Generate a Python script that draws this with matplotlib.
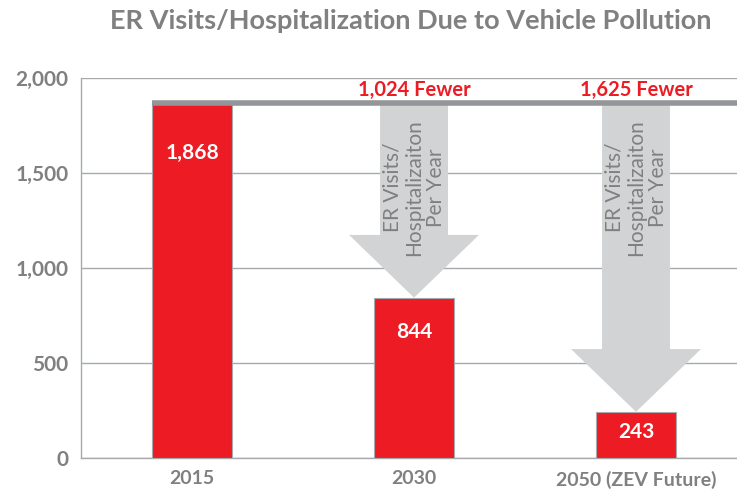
import matplotlib
matplotlib.use("Agg")
import matplotlib.pyplot as plt
from matplotlib.ticker import FuncFormatter

plt.rcParams['font.family'] = ['Lato', 'DejaVu Sans']

# data
categories = ["2015", "2030", "2050 (ZEV Future)"]
visits = [1868, 844, 243]
fewer_labels = ["1,024 Fewer", "1,625 Fewer"]
arrow_text = "ER Visits/\nHospitalizaiton\nPer Year"

RED = "#ED1C24"
GRAY_TXT = "#808080"
GRAY_ARROW = "#D1D3D4"
GRAY_LINE = "#939598"

fig = plt.figure(figsize=(7.37, 4.97), dpi=100)
ax = fig.add_axes([0.110, 0.0785, 0.890, 0.7645])

x = list(range(len(categories)))
ax.set_xlim(-0.5, 2.455)
ax.set_ylim(0, 2000)

# grid
ax.set_yticks([0, 500, 1000, 1500, 2000])
ax.yaxis.grid(True, color="#A7A9AC", lw=1)
ax.set_axisbelow(True)

# reference line at 2015 level
base = visits[0]
ax.plot([x[0] - 0.18, 2.455], [base, base], color=GRAY_LINE, lw=4,
        solid_capstyle="butt", zorder=4)

# arrows for reductions
for i in (1, 2):
    ax.arrow(x[i], base, 0, -(base - visits[i]), width=0.306, head_width=0.585,
             head_length=330, length_includes_head=True, color=GRAY_ARROW,
             lw=0, zorder=2)
    ax.text(x[i], 1425, arrow_text, rotation=90, ha="center", va="center",
            color=GRAY_TXT, fontsize=15, linespacing=1.1, zorder=5)
    ax.text(x[i], base + 18, fewer_labels[i - 1], ha="center", va="bottom",
            color=RED, fontsize=14.5, fontweight="bold", zorder=5)

# bars
ax.bar(x, visits, width=0.36, color=RED, edgecolor="#A7A9AC", lw=0.8, zorder=3)

label_offsets = [50, 34, 20]
for xi, v, off in zip(x, visits, label_offsets):
    ax.annotate(f"{v:,}", (xi, v), xytext=(0, -off), textcoords="offset pixels",
                ha="center", va="center", color="white", fontsize=15,
                fontweight="bold", zorder=6)

ax.set_xticks(x)
ax.set_xticklabels(categories)
ax.yaxis.set_major_formatter(FuncFormatter(lambda v, p: f"{int(v):,}"))
ax.tick_params(length=0, labelsize=15, labelcolor=GRAY_TXT, pad=9)
ax.tick_params(axis="x", labelsize=14, pad=9)
for lab in ax.get_xticklabels() + ax.get_yticklabels():
    lab.set_fontweight("bold")

for s in ("top", "right"):
    ax.spines[s].set_visible(False)
for s in ("left", "bottom"):
    ax.spines[s].set_color("#A7A9AC")
    ax.spines[s].set_linewidth(1)

fig.text(0.558, 0.958, "ER Visits/Hospitalization Due to Vehicle Pollution",
         ha="center", va="center", color=GRAY_TXT, fontsize=19.5, fontweight="bold")

fig.savefig("out.png", dpi=100)
